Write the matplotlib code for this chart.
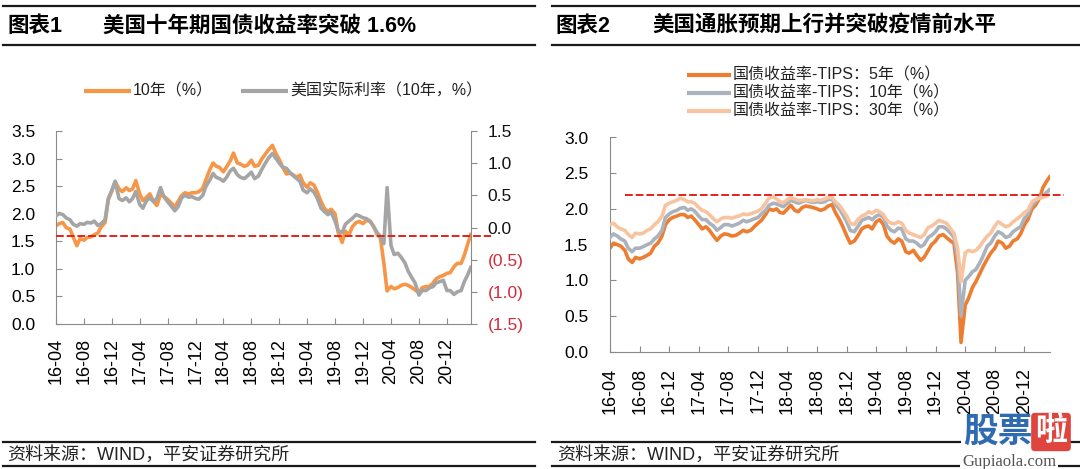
import matplotlib
matplotlib.use('Agg')
import matplotlib.pyplot as plt
import matplotlib.dates as mdates
import matplotlib.transforms as mtransforms
from matplotlib.lines import Line2D
from matplotlib.ticker import FuncFormatter, MultipleLocator
import pandas as pd

# ---------------- data (semi-monthly, 2016-04-01 .. 2021-03-15) ----------------
dates = pd.date_range('2016-04-01', periods=120, freq='SMS')

us10y = (
    [1.78, 1.82, 1.84, 1.75, 1.72, 1.58, 1.42, 1.55, 1.52, 1.57, 1.58, 1.62, 1.65, 1.76, 1.84, 2.25, 2.42, 2.58]
    + [2.45, 2.40, 2.47, 2.42, 2.45, 2.60, 2.36, 2.24, 2.30, 2.36, 2.22, 2.15, 2.35, 2.32, 2.26, 2.20, 2.12, 2.22, 2.33, 2.38, 2.36, 2.38, 2.38, 2.40]
    + [2.46, 2.62, 2.80, 2.92, 2.86, 2.84, 2.76, 2.85, 2.96, 3.10, 2.92, 2.90, 2.86, 2.88, 2.97, 2.86, 2.88, 2.99, 3.08, 3.16, 3.24, 3.10, 2.98, 2.85]
    + [2.72, 2.74, 2.70, 2.66, 2.70, 2.56, 2.48, 2.56, 2.52, 2.40, 2.22, 2.10, 2.04, 2.08, 2.00, 1.66, 1.48, 1.68, 1.62, 1.76, 1.84, 1.86, 1.82, 1.88]
    + [1.86, 1.78, 1.62, 1.56, 1.10, 0.60, 0.68, 0.64, 0.66, 0.70, 0.72, 0.70, 0.66, 0.62, 0.56, 0.66, 0.68, 0.68, 0.74, 0.82, 0.86, 0.88, 0.92, 0.93]
    + [1.04, 1.10, 1.10, 1.25, 1.44, 1.62]
)

real10y = (
    [0.18, 0.22, 0.20, 0.15, 0.12, 0.05, 0.02, 0.06, 0.05, 0.08, 0.07, 0.10, 0.03, 0.06, 0.12, 0.45, 0.58, 0.72]
    + [0.45, 0.42, 0.46, 0.40, 0.45, 0.56, 0.36, 0.30, 0.42, 0.46, 0.40, 0.45, 0.62, 0.48, 0.40, 0.34, 0.26, 0.32, 0.46, 0.50, 0.47, 0.48, 0.45, 0.44]
    + [0.50, 0.64, 0.74, 0.84, 0.78, 0.76, 0.72, 0.78, 0.88, 0.92, 0.82, 0.78, 0.76, 0.80, 0.86, 0.76, 0.80, 0.90, 1.00, 1.08, 1.15, 1.08, 1.00, 0.94]
    + [0.92, 0.86, 0.80, 0.76, 0.72, 0.58, 0.54, 0.60, 0.55, 0.46, 0.30, 0.25, 0.20, 0.24, 0.10, -0.05, -0.08, 0.05, 0.10, 0.14, 0.20, 0.18, 0.15, 0.14]
    + [0.10, 0.02, -0.08, -0.14, -0.25, 0.62, -0.28, -0.42, -0.40, -0.46, -0.55, -0.68, -0.78, -0.86, -1.05, -0.98, -0.98, -0.94, -0.92, -0.86, -0.84, -0.82, -0.98, -0.98]
    + [-1.04, -1.00, -0.98, -0.84, -0.74, -0.62]
)

be5 = (
    [1.45, 1.52, 1.50, 1.48, 1.42, 1.30, 1.25, 1.32, 1.30, 1.32, 1.35, 1.38, 1.48, 1.52, 1.62, 1.78, 1.85, 1.88]
    + [1.90, 1.92, 1.92, 1.88, 1.90, 1.85, 1.78, 1.72, 1.75, 1.70, 1.62, 1.56, 1.62, 1.65, 1.64, 1.62, 1.63, 1.66, 1.70, 1.68, 1.70, 1.75, 1.80, 1.84]
    + [1.92, 2.00, 1.98, 2.00, 1.95, 1.94, 2.00, 2.05, 1.98, 1.96, 2.02, 2.04, 2.03, 2.02, 2.00, 1.98, 2.00, 2.04, 2.06, 1.95, 1.85, 1.75, 1.62, 1.52]
    + [1.55, 1.62, 1.72, 1.75, 1.76, 1.72, 1.82, 1.85, 1.78, 1.62, 1.55, 1.52, 1.58, 1.55, 1.40, 1.38, 1.42, 1.35, 1.28, 1.32, 1.42, 1.50, 1.55, 1.62]
    + [1.64, 1.60, 1.55, 1.52, 1.10, 0.13, 0.65, 0.75, 0.90, 0.98, 1.10, 1.20, 1.30, 1.38, 1.45, 1.55, 1.52, 1.45, 1.48, 1.55, 1.58, 1.65, 1.78, 1.85]
    + [2.00, 2.05, 2.15, 2.30, 2.38, 2.45]
)

be10 = (
    [1.60, 1.65, 1.62, 1.58, 1.55, 1.45, 1.40, 1.45, 1.45, 1.47, 1.50, 1.52, 1.58, 1.62, 1.70, 1.88, 1.93, 1.96]
    + [1.98, 2.01, 2.02, 1.98, 2.00, 1.97, 1.90, 1.85, 1.85, 1.80, 1.76, 1.70, 1.74, 1.78, 1.78, 1.76, 1.78, 1.80, 1.84, 1.82, 1.84, 1.86, 1.88, 1.93]
    + [1.98, 2.05, 2.08, 2.07, 2.05, 2.03, 2.08, 2.12, 2.10, 2.08, 2.10, 2.12, 2.10, 2.09, 2.10, 2.09, 2.10, 2.13, 2.14, 2.06, 2.00, 1.92, 1.82, 1.70]
    + [1.68, 1.75, 1.84, 1.86, 1.88, 1.85, 1.90, 1.92, 1.88, 1.76, 1.70, 1.68, 1.73, 1.72, 1.58, 1.55, 1.55, 1.52, 1.47, 1.50, 1.60, 1.63, 1.68, 1.75]
    + [1.75, 1.72, 1.66, 1.60, 1.30, 0.50, 1.00, 1.05, 1.12, 1.15, 1.25, 1.35, 1.48, 1.52, 1.62, 1.68, 1.65, 1.60, 1.62, 1.68, 1.72, 1.75, 1.87, 1.92]
    + [2.05, 2.10, 2.17, 2.18, 2.23, 2.27]
)

be30 = (
    [1.78, 1.80, 1.75, 1.72, 1.70, 1.64, 1.60, 1.66, 1.65, 1.66, 1.70, 1.72, 1.78, 1.82, 1.90, 2.05, 2.08, 2.10]
    + [2.12, 2.15, 2.13, 2.10, 2.10, 2.08, 2.02, 1.98, 1.96, 1.92, 1.86, 1.82, 1.86, 1.88, 1.88, 1.87, 1.89, 1.90, 1.93, 1.92, 1.93, 1.95, 1.97, 2.00]
    + [2.08, 2.15, 2.17, 2.14, 2.10, 2.09, 2.13, 2.16, 2.14, 2.12, 2.12, 2.13, 2.12, 2.11, 2.13, 2.12, 2.14, 2.16, 2.16, 2.10, 2.05, 1.98, 1.90, 1.80]
    + [1.78, 1.85, 1.90, 1.92, 1.96, 1.94, 1.98, 1.96, 1.92, 1.84, 1.80, 1.79, 1.82, 1.80, 1.70, 1.66, 1.64, 1.62, 1.60, 1.64, 1.74, 1.76, 1.80, 1.84]
    + [1.82, 1.80, 1.72, 1.66, 1.45, 0.98, 1.38, 1.42, 1.40, 1.42, 1.48, 1.55, 1.62, 1.66, 1.76, 1.82, 1.78, 1.75, 1.77, 1.82, 1.86, 1.90, 1.95, 1.98]
    + [2.10, 2.13, 2.15, 2.16, 2.18, 2.20]
)

line1_level = 1.6
line2_level = 2.2

tick_dates = pd.date_range('2016-04-01', '2020-12-01', freq='4MS')
x_end = pd.Timestamp('2021-03-16')

title1_tag, title1 = '图表1', '美国十年期国债收益率突破 1.6%'
title2_tag, title2 = '图表2', '美国通胀预期上行并突破疫情前水平'
leg1 = ['10年（%）', '美国实际利率（10年，%）']
leg2 = ['国债收益率-TIPS：5年（%）', '国债收益率-TIPS：10年（%）', '国债收益率-TIPS：30年（%）']
source = '资料来源：WIND，平安证券研究所'

# ---------------- styling ----------------
W, H = 1080, 469
FAM = ['Liberation Sans', 'Noto Sans CJK SC']
plt.rcParams['font.family'] = FAM
SPINE = '#8A8A8A'
RED = '#E3231B'
NEG_RED = '#D42A3A'
C_ORANGE = '#F79646'
C_GRAY = '#A5A5A5'
C_5Y = '#ED7D31'
C_10Y = '#AAB3BD'
C_30Y = '#F8C4A0'
LW = 2.6

fig = plt.figure(figsize=(W / 100, H / 100), dpi=100)


def fx(px):
    return px / W


def fy(py):
    return 1 - py / H


def hline(x0, x1, y, lw=1.6, color='#1A1A1A'):
    fig.add_artist(Line2D([fx(x0), fx(x1)], [fy(y), fy(y)], color=color, lw=lw,
                          transform=fig.transFigure))


# header / footer rules
for (a, b) in [(3, 535), (552, 1080)]:
    hline(a, b, 6)
    hline(a, b, 45)
    hline(a, b, 442)
    hline(a, b, 466)

fig.text(fx(7), fy(26), title1_tag, fontsize=15.5, weight='bold', va='center', ha='left')
fig.text(fx(103), fy(26), title1, fontsize=15.5, weight='bold', va='center', ha='left')
fig.text(fx(555), fy(26), title2_tag, fontsize=15.5, weight='bold', va='center', ha='left')
fig.text(fx(652), fy(26), title2, fontsize=15.5, weight='bold', va='center', ha='left')

fig.text(fx(7), fy(455), source, fontsize=13, va='center', ha='left', color='#222222')
fig.text(fx(557), fy(455), source, fontsize=13, va='center', ha='left', color='#222222')


def legend_item(x0, x1, y, color, label):
    fig.add_artist(Line2D([fx(x0), fx(x1)], [fy(y), fy(y)], color=color, lw=3.0,
                          transform=fig.transFigure, solid_capstyle='butt'))
    fig.text(fx(x1 + 2), fy(y), label, fontsize=11.5, va='center', ha='left', color='#222222')


legend_item(84, 131, 91, C_ORANGE, leg1[0])
legend_item(241, 288, 91, C_GRAY, leg1[1])
legend_item(687, 731, 75, C_5Y, leg2[0])
legend_item(687, 731, 93, C_10Y, leg2[1])
legend_item(687, 731, 111, C_30Y, leg2[2])


def style_xaxis(ax, pad):
    ax.set_xlim(dates[0], x_end)
    ax.set_xticks(tick_dates)
    ax.xaxis.set_major_formatter(mdates.DateFormatter('%y-%m'))
    ax.tick_params(axis='x', direction='in', length=4, color=SPINE, labelsize=13,
                   pad=pad, labelrotation=90)


# ---------------- chart 1 ----------------
ax1 = fig.add_axes([fx(56), fy(324), fx(471) - fx(56), fy(131) - fy(324)])
ax1.plot(dates, us10y, color=C_ORANGE, lw=LW, zorder=2)
ax1.set_ylim(0, 3.5)
ax1.yaxis.set_major_locator(MultipleLocator(0.5))
ax1.yaxis.set_major_formatter(FuncFormatter(lambda v, p: f'{v:.1f}'))
ax1.tick_params(axis='y', direction='in', length=4, color=SPINE, labelsize=12.5, pad=15)
style_xaxis(ax1, 10)
for s in ['top', 'right']:
    ax1.spines[s].set_visible(False)
for s in ['left', 'bottom']:
    ax1.spines[s].set_color(SPINE)

ax1r = ax1.twinx()
ax1r.plot(dates, real10y, color=C_GRAY, lw=LW, zorder=3)
ax1r.set_ylim(-1.5, 1.5)
ax1r.yaxis.set_major_locator(MultipleLocator(0.5))
ax1r.yaxis.set_major_formatter(FuncFormatter(
    lambda v, p: f'({abs(v):.1f})' if v < -1e-9 else f'{abs(v):.1f}'))
ax1r.tick_params(axis='y', direction='out', length=4, color=SPINE, labelsize=12.5, pad=8)
for s in ['top', 'left', 'bottom']:
    ax1r.spines[s].set_visible(False)
ax1r.spines['right'].set_color(SPINE)
style_xaxis(ax1r, 10)
fig.canvas.draw()
for lab, v in zip(ax1r.get_yticklabels(), ax1r.get_yticks()):
    lab.set_color(NEG_RED if v < -1e-9 else '#111111')

trans1 = mtransforms.blended_transform_factory(ax1r.transAxes, ax1.transData)
ax1r.plot([0, 1.048], [line1_level, line1_level], transform=trans1, color=RED, lw=1.4,
          ls=(0, (4, 1.5)), clip_on=False, zorder=5)

# ---------------- chart 2 ----------------
ax2 = fig.add_axes([fx(610), fy(351.7), fx(1050) - fx(610), fy(137.5) - fy(351.7)])
ax2.plot(dates, be5, color=C_5Y, lw=LW, zorder=2)
ax2.plot(dates, be10, color=C_10Y, lw=LW, zorder=3)
ax2.plot(dates, be30, color=C_30Y, lw=LW, zorder=4)
ax2.set_ylim(0, 3.0)
ax2.yaxis.set_major_locator(MultipleLocator(0.5))
ax2.yaxis.set_major_formatter(FuncFormatter(lambda v, p: f'{v:.1f}'))
ax2.tick_params(axis='y', direction='in', length=4, color=SPINE, labelsize=12.5, pad=15.5)
style_xaxis(ax2, 11.5)
for s in ['top', 'right']:
    ax2.spines[s].set_visible(False)
for s in ['left', 'bottom']:
    ax2.spines[s].set_color(SPINE)
trans2 = mtransforms.blended_transform_factory(ax2.transAxes, ax2.transData)
ax2.plot([0.034, 1.032], [line2_level, line2_level], transform=trans2, color=RED, lw=1.4,
         ls=(0, (4, 1.5)), clip_on=False, zorder=6)

# ---------------- watermark ----------------
fig.text(fx(963), fy(432), '股票', fontsize=25, weight='bold', color='#2F6BB0',
         va='center', ha='left', zorder=10,
         bbox=dict(boxstyle='square,pad=0.05', fc='white', ec='none'))
fig.text(fx(1035), fy(432), '啦', fontsize=23, weight='bold', color='white',
         va='center', ha='left', zorder=10,
         bbox=dict(boxstyle='round,pad=0.12', fc='#E0443E', ec='none'))
fig.text(fx(962), fy(462), 'Gupiaola.com', fontsize=12, color='#555555',
         family=['Liberation Serif'], va='center', ha='left', zorder=10,
         bbox=dict(boxstyle='square,pad=0.1', fc='white', ec='none'))

fig.savefig('out.png', dpi=100)
